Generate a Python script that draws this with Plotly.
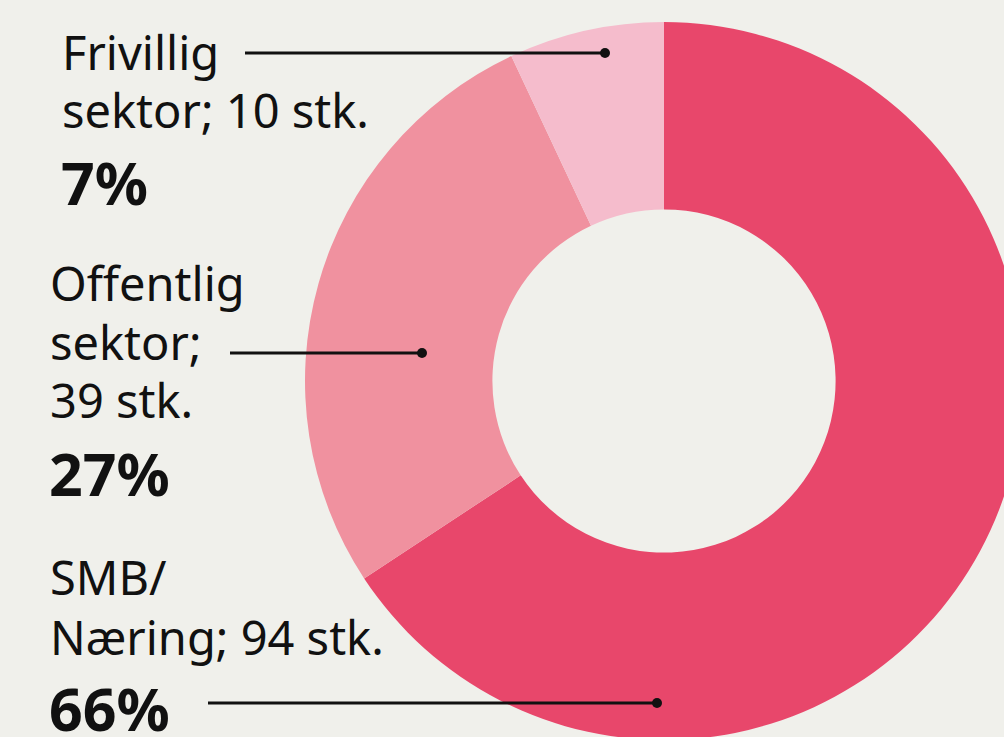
import plotly.graph_objects as go

categories = ["SMB/ Næring", "Offentlig sektor", "Frivillig sektor"]
counts = [94, 39, 10]
percent_labels = ["66%", "27%", "7%"]
label_lines = [["SMB/", "Næring; 94 stk."], ["Offentlig", "sektor;", "39 stk."], ["Frivillig", "sektor; 10 stk."]]
colors = ["#E8476B", "#F0919F", "#F5BCCC"]

W, H = 1024, 740
BG = "#F0F0EB"
FONT = "Noto Sans"
FS = 47
FSB = 59


def px(x):
    return x / W


def py(y):
    return 1 - y / H


fig = go.Figure(go.Pie(
    labels=categories, values=counts, marker=dict(colors=colors, line=dict(width=0)),
    hole=0.478, sort=False, direction="clockwise", rotation=0,
    textinfo="none", hoverinfo="label+value+percent", showlegend=False,
    domain=dict(x=[px(304), 1], y=[0, py(22)]),
))

# label blocks: (left x, list of baselines for lines, pct baseline, leader line)
blocks = [
    (50, [597, 657], 733, (208, 657, 703)),
    (50, [303, 362, 420], 498, (230, 422, 353)),
    (62, [72, 130], 207, (245, 605, 53)),
]

ann = []
shapes = []
for i, (x0, baselines, pb, (lx0, lx1, ly)) in enumerate(blocks):
    for txt, b in zip(label_lines[i], baselines):
        ann.append(dict(x=px(x0 - 2), y=py(b + 0.3 * FS), xref="paper", yref="paper", text=txt,
                        showarrow=False, xanchor="left", yanchor="bottom",
                        font=dict(family=FONT, size=FS, color="#111111")))
    ann.append(dict(x=px(x0 - 3), y=py(pb + 0.28 * FSB), xref="paper", yref="paper",
                    text="<b>" + percent_labels[i] + "</b>",
                    showarrow=False, xanchor="left", yanchor="bottom",
                    font=dict(family=FONT, size=FSB, color="#111111")))
    shapes.append(dict(type="line", xref="paper", yref="paper", x0=px(lx0), x1=px(lx1),
                       y0=py(ly), y1=py(ly), line=dict(color="#111111", width=3)))
    shapes.append(dict(type="circle", xref="paper", yref="paper", x0=px(lx1 - 5), x1=px(lx1 + 5),
                       y0=py(ly - 5), y1=py(ly + 5), fillcolor="#111111", line=dict(width=0)))

fig.update_layout(width=W, height=H, margin=dict(l=0, r=0, t=0, b=0),
                  paper_bgcolor=BG, plot_bgcolor=BG, annotations=ann, shapes=shapes)

fig.write_html("out.html", config={"displayModeBar": False},
               post_script="document.documentElement.style.overflow='hidden';document.body.style.overflow='hidden';document.body.style.margin='0';document.body.style.background='%s';" % BG)
